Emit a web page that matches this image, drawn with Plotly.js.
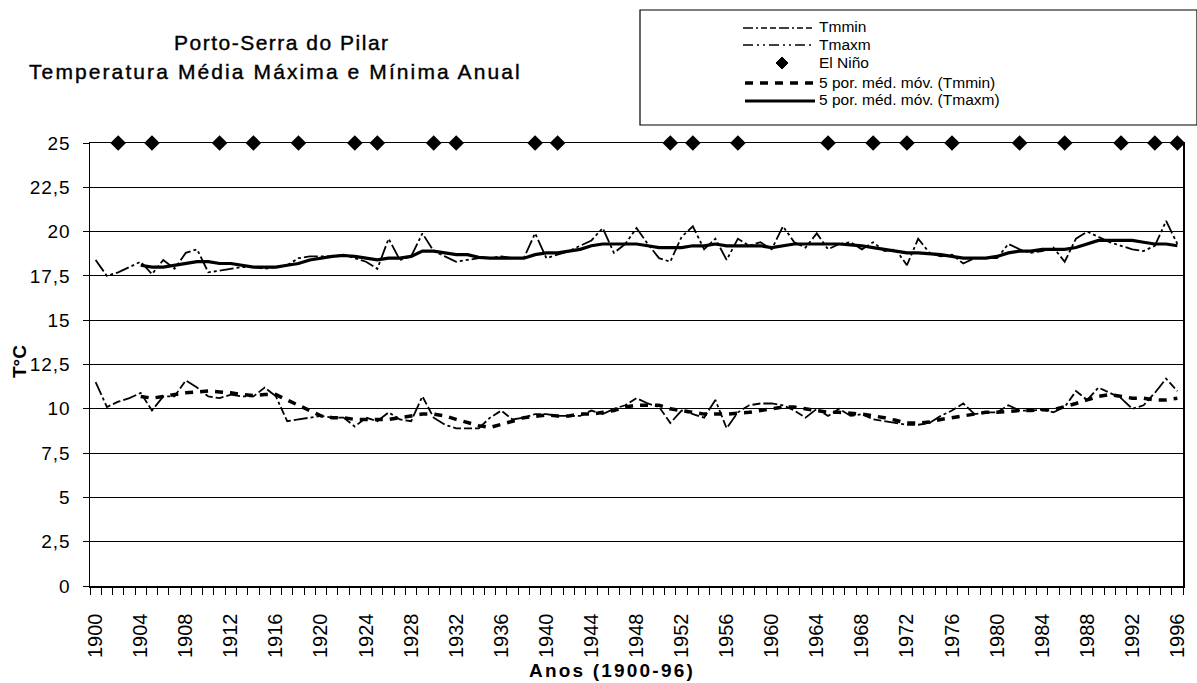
<!DOCTYPE html>
<html>
<head>
<meta charset="utf-8">
<script src="https://cdn.plot.ly/plotly-3.0.1.min.js"></script>
<style>
html,body{margin:0;padding:0;background:#fff;}
#chart{width:1197px;height:683px;}
#chart .ytick text{letter-spacing:1px;}
</style>
</head>
<body>
<div id="chart"></div>
<script>
// ---- data ----
const years = [];
for (let y = 1900; y <= 1996; y++) years.push(y);

const tmaxm = [18.4,17.5,17.7,18.0,18.3,17.6,18.4,17.9,18.8,19.0,
  17.7,17.8,17.9,18.0,18.0,17.9,18.0,18.1,18.5,18.6,
  18.6,18.6,18.7,18.5,18.3,17.9,19.6,18.4,18.6,19.9,
  18.9,18.6,18.3,18.4,18.5,18.5,18.6,18.5,18.5,19.9,
  18.5,18.7,18.9,19.2,19.5,20.2,18.8,19.3,20.2,19.3,
  18.5,18.3,19.7,20.3,19.0,19.6,18.4,19.6,19.2,19.4,
  19.0,20.3,19.4,19.1,19.9,19.0,19.3,19.4,19.0,19.4,
  18.9,19.0,18.1,19.6,18.8,18.6,18.7,18.2,18.5,18.5,
  18.5,19.3,19.0,18.8,18.9,19.1,18.3,19.6,20.0,19.7,
  19.4,19.2,19.0,18.9,19.2,20.6,19.3];

const tmmin = [11.5,10.1,10.4,10.6,10.9,9.9,10.7,10.7,11.6,11.2,
  10.7,10.6,10.8,10.7,10.7,11.2,10.7,9.3,9.4,9.5,
  9.6,9.5,9.5,9.0,9.5,9.3,9.8,9.4,9.3,10.7,
  9.5,9.1,8.9,8.9,8.9,9.5,9.9,9.4,9.5,9.7,
  9.7,9.6,9.6,9.6,9.9,9.7,10.0,10.2,10.6,10.3,
  10.1,9.2,9.9,9.7,9.5,10.5,8.9,9.8,10.2,10.3,
  10.3,10.2,9.9,9.5,10.0,9.6,10.0,9.6,9.7,9.4,
  9.3,9.2,9.1,9.1,9.2,9.6,9.9,10.3,9.7,9.8,
  9.8,10.2,9.9,9.9,9.95,9.8,10.1,11.0,10.5,11.2,
  10.9,10.6,10.0,10.2,10.9,11.7,11.0];

const maYears = years.slice(4); // 1904..1996
const maTmaxm = [18.1,18.0,18.0,18.1,18.2,18.3,18.3,18.2,18.2,18.1,
  18.0,18.0,18.0,18.1,18.2,18.4,18.5,18.6,18.65,18.6,
  18.5,18.4,18.5,18.5,18.6,18.9,18.9,18.8,18.7,18.7,
  18.55,18.5,18.5,18.5,18.5,18.7,18.8,18.8,18.9,19.0,
  19.2,19.3,19.3,19.3,19.3,19.2,19.1,19.1,19.1,19.2,
  19.2,19.3,19.2,19.2,19.2,19.2,19.1,19.2,19.3,19.3,
  19.3,19.3,19.3,19.25,19.2,19.1,19.0,18.9,18.8,18.8,
  18.75,18.7,18.6,18.5,18.5,18.5,18.6,18.8,18.9,18.9,
  19.0,19.0,19.0,19.1,19.3,19.5,19.5,19.5,19.5,19.4,
  19.3,19.3,19.2];

const maTmmin = [10.7,10.6,10.7,10.8,10.9,10.95,11.0,10.95,10.9,10.8,
  10.75,10.8,10.8,10.5,10.2,9.9,9.6,9.5,9.5,9.4,
  9.4,9.4,9.4,9.5,9.6,9.7,9.7,9.6,9.4,9.2,
  9.05,8.95,9.1,9.3,9.5,9.6,9.65,9.6,9.6,9.7,
  9.7,9.8,9.9,10.1,10.2,10.2,10.2,10.0,9.9,9.8,
  9.7,9.7,9.7,9.75,9.8,9.9,10.0,10.1,10.1,10.0,
  9.9,9.8,9.8,9.75,9.7,9.6,9.5,9.35,9.2,9.2,
  9.25,9.4,9.5,9.6,9.7,9.8,9.8,9.85,9.9,9.9,
  9.95,9.95,10.1,10.3,10.5,10.7,10.8,10.7,10.6,10.6,
  10.5,10.5,10.6];

const ninoYears = [1902,1905,1911,1914,1918,1923,1925,1930,1932,1939,1941,
  1951,1953,1957,1965,1969,1972,1976,1982,1986,1991,1994,1996];
const ninoLevel = ninoYears.map(() => 25);

const xTickVals = [];
for (let y = 1900; y <= 1996; y += 4) xTickVals.push(y);
const yTickVals = [0,2.5,5,7.5,10,12.5,15,17.5,20,22.5,25];
const yTickText = ['0','2,5','5','7,5','10','12,5','15','17,5','20','22,5','25'];

const seriesNames = ['Tmmin', 'Tmaxm', 'El Niño', '5 por. méd. móv. (Tmmin)', '5 por. méd. móv. (Tmaxm)'];

// ---- styles ----
const FONT = 'Liberation Sans, Arial, sans-serif';
const DASH_MIN = '14px,3px,3px,3px,8px,3px,8px,3px';
const DASH_MAX = '14px,3px,3px,3px,3px,3px';
const DASH_MIN_LEG = '10px,3px,2px,3px,6px,3px,6px,3px';
const DASH_MAX_LEG = '10px,4px,2px,4px,2px,4px';
const DASH_MA = '8px,7px';

const traces = [
  {x: years, y: tmmin, name: seriesNames[0], mode: 'lines',
   line: {color: '#000', width: 1.8, dash: DASH_MIN}},
  {x: years, y: tmaxm, name: seriesNames[1], mode: 'lines',
   line: {color: '#000', width: 1.8, dash: DASH_MAX}},
  {x: ninoYears, y: ninoLevel, name: seriesNames[2], mode: 'markers', cliponaxis: false,
   marker: {symbol: 'diamond', size: 12, color: '#000'}},
  {x: maYears, y: maTmmin, name: seriesNames[3], mode: 'lines',
   line: {color: '#000', width: 3.5, dash: DASH_MA}},
  {x: maYears, y: maTmaxm, name: seriesNames[4], mode: 'lines',
   line: {color: '#000', width: 3.2}}
];

// plot area in pixels
const L = 90, R = 1183, T = 143, B = 586;
const px = v => (v - L) / (R - L);
const py = v => (B - v) / (B - T);

// manual legend (legend decorations, paper coordinates)
const legRows = [28, 45, 63, 83, 101];
const legX0 = 743, legX1 = 815, legText = 817;
const shapes = [
  {type: 'rect', xref: 'paper', yref: 'paper', x0: px(640), x1: px(1197), y0: py(125), y1: py(10),
   line: {color: '#000', width: 1.2}, fillcolor: 'rgba(0,0,0,0)', layer: 'above'},
  {type: 'line', xref: 'paper', yref: 'paper', x0: px(legX0), x1: px(legX1), y0: py(legRows[0]), y1: py(legRows[0]),
   line: {color: '#000', width: 1.3, dash: DASH_MIN_LEG}},
  {type: 'line', xref: 'paper', yref: 'paper', x0: px(legX0), x1: px(legX1), y0: py(legRows[1]), y1: py(legRows[1]),
   line: {color: '#000', width: 1.3, dash: DASH_MAX_LEG}},
  {type: 'path', xref: 'paper', yref: 'paper', fillcolor: '#000', line: {color: '#000', width: 1},
   path: `M${px(776)},${py(legRows[2])} L${px(782)},${py(legRows[2]-6)} L${px(788)},${py(legRows[2])} L${px(782)},${py(legRows[2]+6)} Z`},
  {type: 'line', xref: 'paper', yref: 'paper', x0: px(legX0 + 2), x1: px(legX1), y0: py(legRows[3]), y1: py(legRows[3]),
   line: {color: '#000', width: 3.5, dash: DASH_MA}},
  {type: 'line', xref: 'paper', yref: 'paper', x0: px(legX0 + 2), x1: px(legX1), y0: py(legRows[4]), y1: py(legRows[4]),
   line: {color: '#000', width: 3}}
];

const annotations = [
  {xref: 'paper', yref: 'paper', x: px(282), y: py(42), xanchor: 'center', yanchor: 'middle',
   text: '<span style="letter-spacing:1.5px;stroke:#000;stroke-width:0.4px">Porto-Serra do Pilar</span>', showarrow: false,
   font: {family: FONT, size: 21, color: '#000'}},
  {xref: 'paper', yref: 'paper', x: px(275), y: py(72), xanchor: 'center', yanchor: 'middle',
   text: '<span style="letter-spacing:2.1px;stroke:#000;stroke-width:0.4px">Temperatura Média Máxima e Mínima Anual</span>', showarrow: false,
   font: {family: FONT, size: 21, color: '#000'}},
  {xref: 'paper', yref: 'paper', x: px(612), y: py(670), xanchor: 'center', yanchor: 'middle',
   text: '<b><span style="letter-spacing:2.2px">Anos (1900-96)</span></b>', showarrow: false,
   font: {family: FONT, size: 19, color: '#000'}},
  {xref: 'paper', yref: 'paper', x: px(19), y: py(362), xanchor: 'center', yanchor: 'middle',
   text: '<b>T°C</b>', textangle: -90, showarrow: false,
   font: {family: FONT, size: 19, color: '#000'}}
];
seriesNames.forEach((n, i) => {
  annotations.push({xref: 'paper', yref: 'paper', x: px(legText), y: py(legRows[i] - 1),
    xanchor: 'left', yanchor: 'middle', text: n, showarrow: false,
    font: {family: FONT, size: 15.5, color: '#000'}});
});

const layout = {
  width: 1197, height: 683,
  margin: {l: L, r: 1197 - R, t: T, b: 683 - B, pad: 0, autoexpand: false},
  paper_bgcolor: '#fff', plot_bgcolor: '#fff',
  font: {family: FONT, color: '#000', size: 16},
  showlegend: false,
  xaxis: {
    range: [1899.5, 1996.5], tickmode: 'array', tickvals: xTickVals,
    ticktext: xTickVals.map(String), tickangle: -90,
    tickfont: {family: FONT, size: 20, color: '#000'},
    ticks: '', ticklabelstandoff: 18, showgrid: false, zeroline: false,
    showline: true, linecolor: '#000', linewidth: 1.5, mirror: true,
    minor: {tickmode: 'linear', tick0: 1899.5, dtick: 1, ticks: 'outside',
            ticklen: 7, tickcolor: '#000', tickwidth: 1, showgrid: false},
    automargin: false
  },
  yaxis: {
    range: [0, 25], tickmode: 'array', tickvals: yTickVals, ticktext: yTickText,
    tickfont: {family: FONT, size: 19, color: '#000'},
    ticks: 'outside', ticklen: 6, tickcolor: '#000', ticklabelstandoff: 8,
    showgrid: true, gridcolor: '#000', gridwidth: 1.2, zeroline: false,
    showline: true, linecolor: '#000', linewidth: 1.5, mirror: true,
    automargin: false
  },
  annotations: annotations,
  shapes: shapes
};

Plotly.newPlot('chart', traces, layout, {displayModeBar: false, staticPlot: true});
</script>
</body>
</html>
